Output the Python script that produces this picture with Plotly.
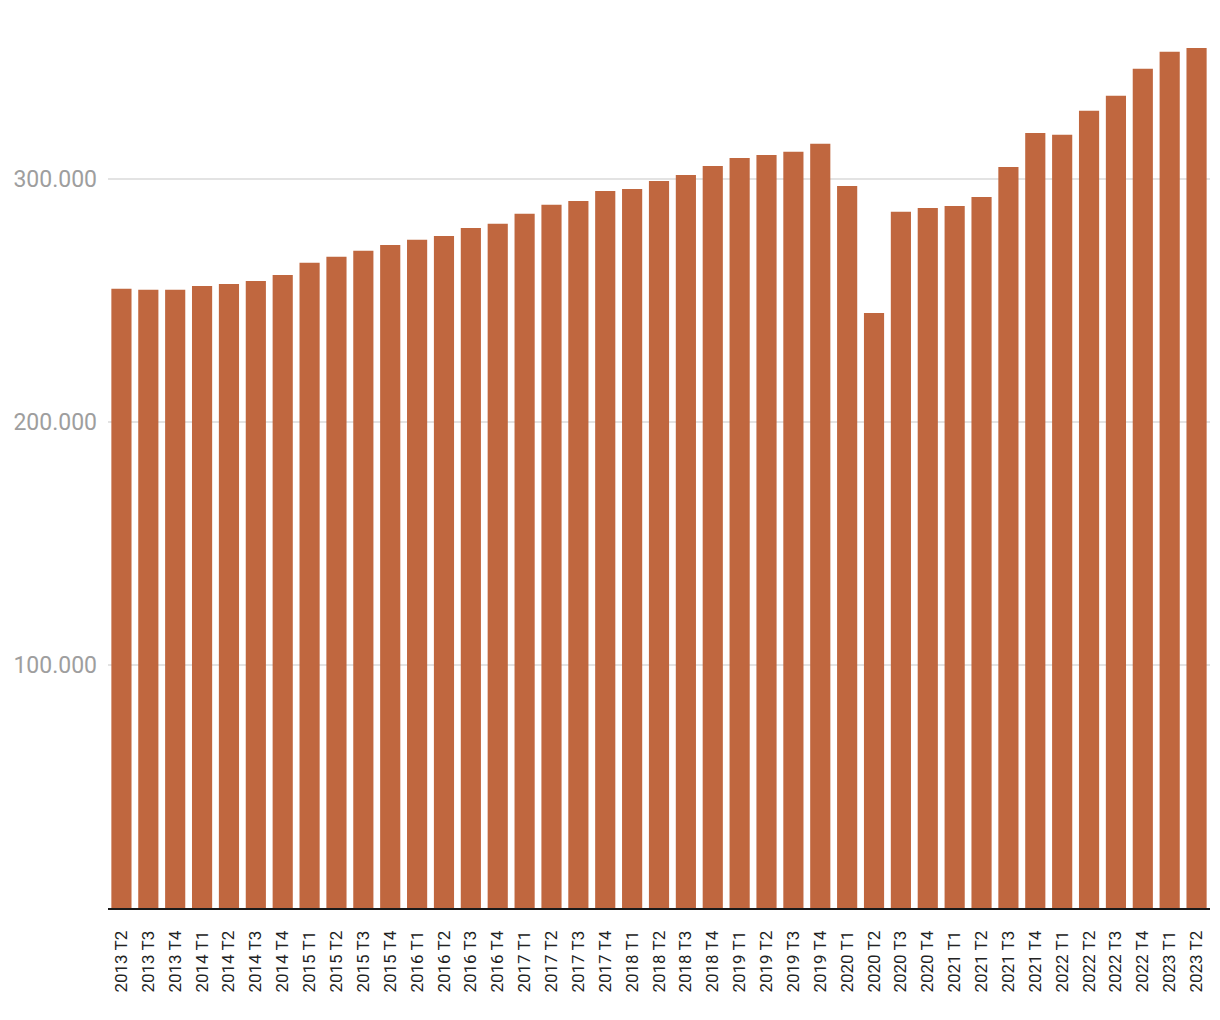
import plotly.graph_objects as go

categories = [
    "2013 T2", "2013 T3", "2013 T4",
    "2014 T1", "2014 T2", "2014 T3", "2014 T4",
    "2015 T1", "2015 T2", "2015 T3", "2015 T4",
    "2016 T1", "2016 T2", "2016 T3", "2016 T4",
    "2017 T1", "2017 T2", "2017 T3", "2017 T4",
    "2018 T1", "2018 T2", "2018 T3", "2018 T4",
    "2019 T1", "2019 T2", "2019 T3", "2019 T4",
    "2020 T1", "2020 T2", "2020 T3", "2020 T4",
    "2021 T1", "2021 T2", "2021 T3", "2021 T4",
    "2022 T1", "2022 T2", "2022 T3", "2022 T4",
    "2023 T1", "2023 T2",
]
values = [
    254900, 254500, 254500,
    256100, 256900, 258100, 260600,
    265600, 268100, 270600, 273000,
    275100, 276700, 280000, 281700,
    285800, 289500, 291100, 295200,
    296000, 299300, 301800, 305500,
    308800, 310000, 311300, 314600,
    297200, 245000, 286600, 288200,
    289000, 292700, 305100, 319100,
    318300, 328200, 334400, 345500,
    352500, 354100,
]
y_tickvals = [100000, 200000, 300000]
y_ticktext = ["100.000", "200.000", "300.000"]

fig = go.Figure(
    go.Bar(x=categories, y=values, marker=dict(color="#c0673f", line=dict(width=0)))
)
fig.update_layout(
    width=1220, height=1020,
    margin=dict(l=108, r=10, t=10, b=112),
    paper_bgcolor="white", plot_bgcolor="white",
    bargap=0.25,
    showlegend=False,
    font=dict(family="Roboto"),
)
fig.update_xaxes(
    type="category",
    tickangle=-90,
    tickfont=dict(family="Roboto", size=17, color="#222222"),
    showline=True, linecolor="#1a1a1a", linewidth=2,
    showgrid=False, ticks="", ticklabelstandoff=14,
)
fig.update_yaxes(
    range=[0, 369700],
    tickvals=y_tickvals, ticktext=y_ticktext,
    tickfont=dict(family="Roboto", size=23, color="#9e9e9e"),
    showgrid=True, gridcolor="#e3e3e3", gridwidth=1.5,
    zeroline=False, showline=False, ticks="", ticklabelstandoff=10,
)
fig.write_html("out.html")
